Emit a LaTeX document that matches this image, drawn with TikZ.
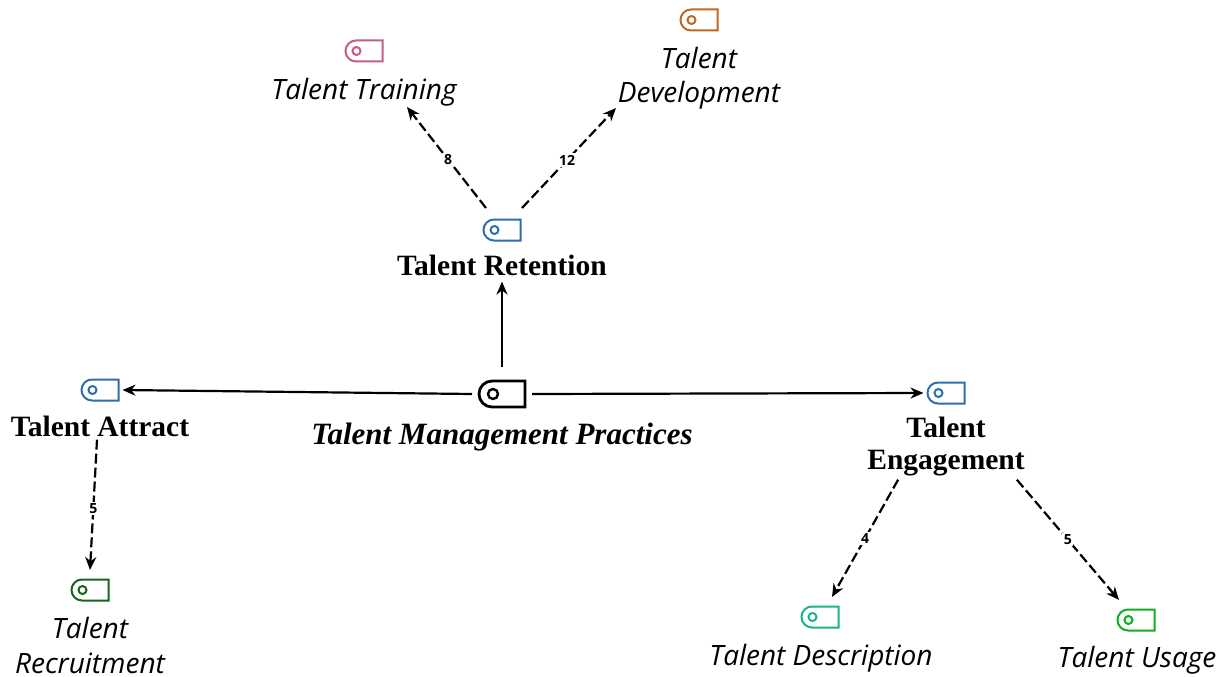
\documentclass[tikz,border=0pt]{standalone}
\usepackage{fontspec}
\setmainfont{Liberation Serif}
\setsansfont{Open Sans}
\usetikzlibrary{arrows.meta,shapes.misc}
\tikzset{
    >={Stealth[length=13pt,width=11pt]},
    tagbase/.style={
        rounded rectangle, rounded rectangle right arc=none,
        draw=#1, inner sep=0pt,
    },
    tagicon/.style={
        tagbase=#1, line width=2pt, minimum width=37pt, minimum height=21pt, outer sep=4pt,
        path picture={\draw[#1, line width=2pt] ([xshift=11pt]path picture bounding box.west) circle (4pt);},
    },
    tagroot/.style={
        tagbase=black, line width=2.8pt, minimum width=46pt, minimum height=26pt, outer sep=7pt,
        path picture={\draw[line width=2.4pt] ([xshift=14pt]path picture bounding box.west) circle (5pt);},
    },
    mainlabel/.style={font=\bfseries\fontsize{29.5}{32}\selectfont, align=center, inner sep=3pt},
    rootlabel/.style={font=\bfseries\itshape\fontsize{31}{34}\selectfont, inner sep=3pt},
    sublabel/.style={font=\sffamily\itshape\fontsize{28}{34.5}\selectfont, align=center, inner sep=1pt},
    weight/.style={font=\sffamily\bfseries\fontsize{14}{14}\selectfont, fill=white, inner sep=1.5pt},
    solidedge/.style={->, line width=2.2pt},
    dashedge/.style={->, line width=2.2pt, dash pattern=on 10pt off 4pt},
}
\definecolor{tagblue}{RGB}{46,110,175}
\definecolor{tagpink}{RGB}{196,92,140}
\definecolor{tagorange}{RGB}{190,105,30}
\definecolor{tagdkgreen}{RGB}{22,100,30}
\definecolor{tagteal}{RGB}{25,180,140}
\definecolor{taggreen}{RGB}{15,175,30}
\begin{document}
\begin{tikzpicture}[x=1pt,y=-1pt]
    \useasboundingbox (0,0) rectangle (1227,677);

    \node[tagroot] (Practices) at (502,394) {};
    \node[rootlabel] (PracticesText) at (502,437) {Talent Management Practices};

    \node[tagicon=tagblue] (Retention) at (502,230) {};
    \node[mainlabel] (RetentionText) at (502,265) {Talent Retention};
    \node[tagicon=tagblue] (Attract) at (100,390) {};
    \node[mainlabel] (AttractText) at (100,426) {Talent Attract};
    \node[tagicon=tagblue] (Engagement) at (946,393) {};
    \node[mainlabel] (EngagementText) at (946,447) {Talent\\Engagement};

    \node[tagicon=tagpink] (Training) at (364,51) {};
    \node[sublabel] (TrainingText) at (364,92) {Talent Training};
    \node[tagicon=tagorange] (Development) at (699,20) {};
    \node[sublabel] (DevelopmentText) at (699,78) {Talent\\Development};
    \node[tagicon=tagdkgreen] (Recruitment) at (90,590) {};
    \node[sublabel] (RecruitmentText) at (90,645.5) {Talent\\Recruitment};
    \node[tagicon=tagteal] (Description) at (820,617) {};
    \node[sublabel] (DescriptionText) at (821,658) {Talent Description};
    \node[tagicon=taggreen] (Usage) at (1136,620) {};
    \node[sublabel] (UsageText) at (1137,660.5) {Talent Usage};

    % main branches
    \draw[solidedge] ([shift={(0,-27)}]Practices.center) -- ([yshift=-3pt]RetentionText.south);
    \draw[solidedge] (Practices.west) -- (Attract.east);
    \draw[solidedge] (Practices.east) -- (Engagement.west);

    % sub branches
    \draw[dashedge] ([shift={(-16,-22)}]Retention.center) -- node[weight, pos=.48] {8} ([shift={(43,15)}]TrainingText.center);
    \draw[dashedge] ([shift={(20,-22)}]Retention.center) -- node[weight, pos=.48] {12} ([shift={(-83,30)}]DevelopmentText.center);
    \draw[dashedge] ([xshift=-3pt]AttractText.south) -- node[weight, pos=.53] {5} ([shift={(0,-20)}]Recruitment.center);
    \draw[dashedge] ([xshift=34pt]EngagementText.south west) -- node[weight] {4} ([shift={(12,-20)}]Description.center);
    \draw[dashedge] ([xshift=-11pt]EngagementText.south east) -- node[weight] {5} ([shift={(-17,-20)}]Usage.center);
\end{tikzpicture}
\end{document}
